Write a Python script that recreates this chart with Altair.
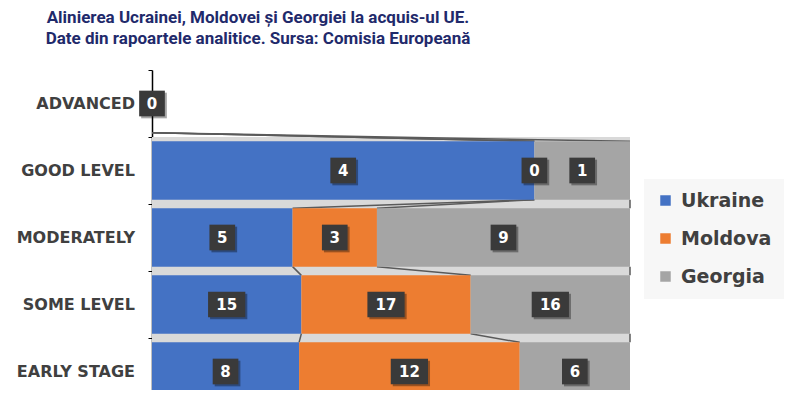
import altair as alt
import pandas as pd

categories = ["ADVANCED", "GOOD LEVEL", "MODERATELY", "SOME LEVEL", "EARLY STAGE"]
series = ["Ukraine", "Moldova", "Georgia"]
ukraine = [0, 4, 5, 15, 8]
moldova = [0, 0, 3, 17, 12]
georgia = [0, 1, 9, 16, 6]
colors = ["#4472C4", "#ED7D31", "#A5A5A5"]
title_lines = [
    "Alinierea Ucrainei, Moldovei și Georgiei la acquis-ul UE.",
    "Date din rapoartele analitice. Sursa: Comisia Europeană",
]

HALF = 0.435
values = {"Ukraine": ukraine, "Moldova": moldova, "Georgia": georgia}

bar_rows, label_rows, ends = [], [], []
for i, cat in enumerate(categories):
    total = sum(values[s][i] for s in series)
    cum = 0.0
    row_ends = []
    for s in series:
        v = values[s][i]
        start = cum / total if total else 0.0
        cum += v
        end = cum / total if total else 0.0
        row_ends.append(end)
        bar_rows.append(dict(cat=cat, idx=i, series=s, x0=start, x1=end,
                             y0=i - HALF, y1=i + HALF))
        label_rows.append(dict(idx=i, xm=(start + end) / 2, val=str(v),
                               shape="M-1,-1L1,-1L1,1L-1,1Z" if v < 10 else "M-1.45,-1L1.45,-1L1.45,1L-1.45,1Z"))
    ends.append(row_ends)

bars = pd.DataFrame(bar_rows)
bars = bars[bars.x1 > bars.x0]
labels = pd.DataFrame(label_rows).drop_duplicates(subset=["idx", "xm", "val"])

conn_rows = []
for i in range(len(categories) - 1):
    for k, s in enumerate(series):
        conn_rows.append(dict(xa=ends[i][k], xb=ends[i + 1][k], ya=i + HALF, yb=i + 1 - HALF))
conns = pd.DataFrame(conn_rows)

strips = pd.DataFrame([dict(ya=i - 0.5, yb=i + 0.5, xa=0.0, xb=1.0) for i in range(1, len(categories))])
cats = pd.DataFrame(dict(idx=list(range(len(categories))), cat=categories, x0=0.0))

xs = alt.Scale(domain=[0, 1], nice=False, zero=False)
ys = alt.Scale(domain=[-0.5, 4.276], reverse=True, nice=False, zero=False)

yaxis = alt.Axis(
    values=[-0.5, 0.5, 1.5, 2.5, 3.5], labels=False, title=None, grid=False,
    tickSize=4, tickColor="#000000", domainColor="#000000", domainWidth=1.5,
)

strip_layer = alt.Chart(strips).mark_rect(color="#d9d9d9").encode(
    x=alt.X("xa:Q", scale=xs, axis=None), x2="xb:Q",
    y=alt.Y("ya:Q", scale=ys, axis=yaxis), y2="yb:Q",
)

conn_layer = alt.Chart(conns).mark_rule(color="#5a5a5a", strokeWidth=1.5).encode(
    x=alt.X("xa:Q", scale=xs, axis=None), x2="xb:Q",
    y=alt.Y("ya:Q", scale=ys), y2="yb:Q",
)

bar_layer = alt.Chart(bars).mark_bar().encode(
    x=alt.X("x0:Q", scale=xs, axis=None), x2="x1:Q",
    y=alt.Y("y0:Q", scale=ys), y2="y1:Q",
    color=alt.Color("series:N", scale=alt.Scale(domain=series, range=colors),
                    legend=alt.Legend(title=None, orient="none", legendX=492, legendY=109,
                                      symbolType="square", symbolSize=110, symbolStrokeWidth=0,
                                      labelFont="DejaVu Sans", labelFontWeight="bold",
                                      labelFontSize=19, labelColor="#404040",
                                      rowPadding=18, padding=12, fillColor="#f7f7f7",
                                      labelOffset=6)),
)

cat_layer = alt.Chart(cats).mark_text(align="right", baseline="middle", dx=-17,
                                      font="DejaVu Sans", fontWeight="bold", fontSize=16,
                                      color="#404040").encode(
    x=alt.X("x0:Q", scale=xs, axis=None), y=alt.Y("idx:Q", scale=ys), text="cat:N",
)

shadow_layer = alt.Chart(labels).mark_point(filled=True, opacity=0.35, color="#000000").encode(
    x=alt.X("xm:Q", scale=xs, axis=None), y=alt.Y("idx:Q", scale=ys),
    shape=alt.Shape("shape:N", scale=None), size=alt.value(660),
    xOffset=alt.value(2), yOffset=alt.value(2),
)
box_layer = alt.Chart(labels).mark_point(filled=True, opacity=1, color="#3a3a3a").encode(
    x=alt.X("xm:Q", scale=xs, axis=None), y=alt.Y("idx:Q", scale=ys),
    shape=alt.Shape("shape:N", scale=None), size=alt.value(660),
)
text_layer = alt.Chart(labels).mark_text(color="white", font="DejaVu Sans", fontWeight="bold",
                                         fontSize=15, baseline="middle").encode(
    x=alt.X("xm:Q", scale=xs, axis=None), y=alt.Y("idx:Q", scale=ys), text="val:N",
)

chart = alt.layer(strip_layer, conn_layer, bar_layer, cat_layer, shadow_layer, box_layer, text_layer).properties(
    width=478, height=320,
    padding={"left": 144, "top": 62, "right": 162, "bottom": 0},
    autosize=alt.AutoSizeParams(type="none"),
    title=alt.TitleParams(text=title_lines, anchor="middle", frame="group", dx=-133,
                          font="Roboto", fontSize=17, fontWeight="bold",
                          color="#1f2a6b", lineHeight=21, offset=22),
).configure(background="white").configure_view(stroke=None)

chart.save("out.html", embed_options={"renderer": "svg", "actions": False})
